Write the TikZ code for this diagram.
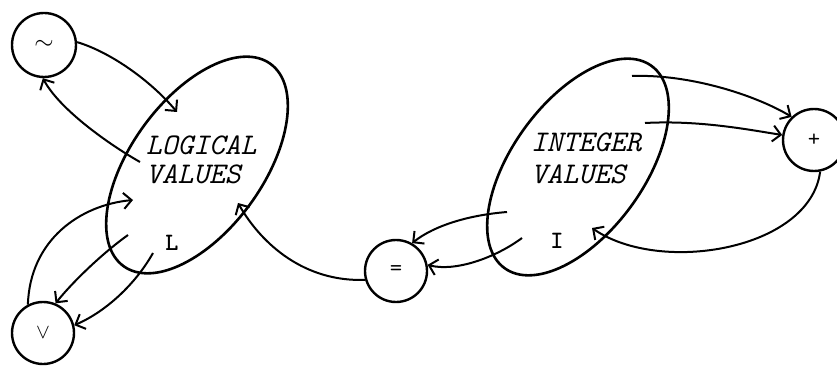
\documentclass[tikz,border=0pt]{standalone}
\usepackage{fontspec}
\usetikzlibrary{shapes.geometric,arrows.meta}
\begin{document}
\begin{tikzpicture}[x=1pt,y=-1pt,
  setell/.style={draw, ellipse, line width=2.6pt, rotate=54, minimum width=250pt, minimum height=132pt, inner sep=0pt},
  opcirc/.style={draw, circle, line width=2.4pt, minimum size=62pt, inner sep=0pt},
  setlabel/.style={font=\fontsize{30}{35}\selectfont\ttfamily\itshape, anchor=base west, inner sep=0pt},
  varlabel/.style={font=\fontsize{25}{28}\selectfont\ttfamily\bfseries, anchor=base, inner sep=0pt},
  conn/.style={line width=2pt, -{Straight Barb[length=8pt,width=16pt]}}
]
\useasboundingbox (0,0) rectangle (837,366);

% sets
\node[setell] (lv) at (197,165) {};
\node[setell] (iv) at (578,167) {};
\node[setlabel] (lv1) at (146,155) {LOGICAL};
\node[setlabel] (lv2) at (146,183) {VALUES};
\node[setlabel] (iv1) at (531,152) {INTEGER};
\node[setlabel] (iv2) at (531,183) {VALUES};
\node[varlabel] (lL) at (172,250) {L};
\node[varlabel] (lI) at (557,248) {I};

% operations
\node[opcirc, minimum size=64pt] (neg) at (44,45) {\fontsize{24}{26}\selectfont$\sim$};
\node[opcirc] (or) at (43,333) {\fontsize{22}{24}\selectfont$\vee$};
\node[opcirc] (eq) at (396,271) {\fontsize{24}{26}\selectfont\ttfamily =};
\node[opcirc] (pl) at (814,140) {\fontsize{24}{26}\selectfont\ttfamily +};

% free ends inside the sets
\coordinate (a1) at (177,112);
\coordinate (a2) at (140,162);
\coordinate (a3) at (133,200);
\coordinate (a4) at (128,235);
\coordinate (a5) at (153,253);
\coordinate (a6) at (238,203);
\coordinate (b1) at (507,212);
\coordinate (b2) at (522,238);
\coordinate (b3) at (632,76);
\coordinate (b4) at (645,123);
\coordinate (b5) at (592,228);

% connectors
\draw[conn] (neg.5) .. controls (110,52) and (150,80) .. (a1);
\draw[conn] (a2) .. controls (110,145) and (60,110) .. (neg.-92);
\draw[conn] (or.118) .. controls (30,240) and (80,205) .. (a3);
\draw[conn] (a4) .. controls (100,255) and (70,285) .. (or.67);
\draw[conn] (a5) .. controls (135,285) and (105,312) .. (or.14);
\draw[conn] (eq.196) .. controls (305,282) and (262,245) .. (a6);
\draw[conn] (b1) .. controls (470,215) and (435,225) .. (eq.60);
\draw[conn] (b2) .. controls (495,258) and (455,272) .. (eq.11);
\draw[conn] (b3) .. controls (690,74) and (755,95) .. (pl.134);
\draw[conn] (b4) .. controls (700,120) and (750,130) .. (pl.171);
\draw[conn] (pl.-79) .. controls (810,250) and (660,275) .. (b5);
\end{tikzpicture}
\end{document}
